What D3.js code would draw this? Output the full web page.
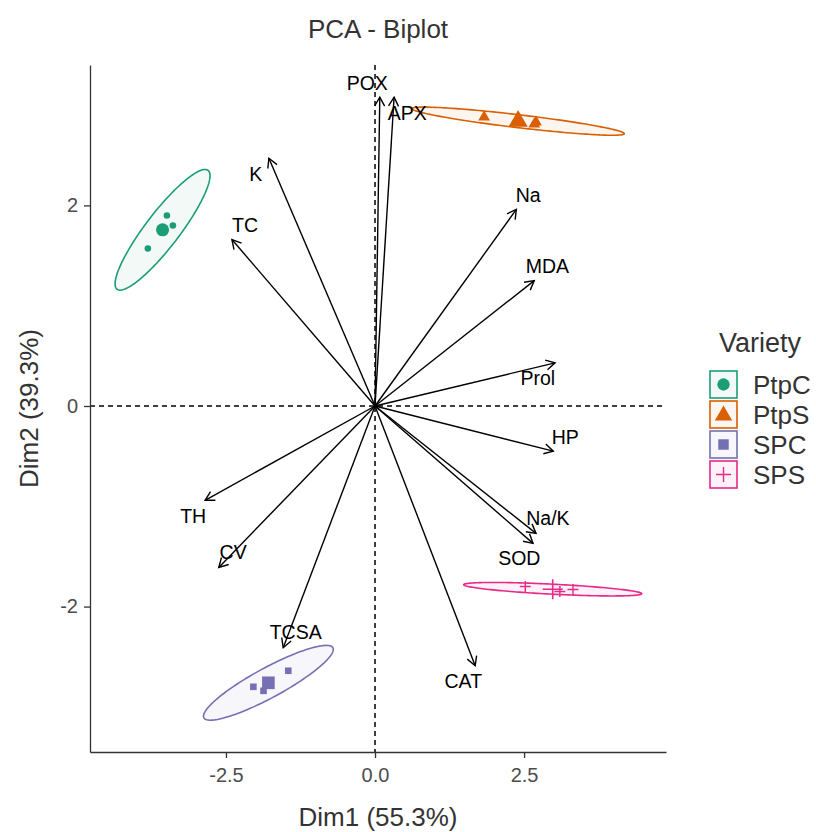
<!DOCTYPE html>
<html>
<head>
<meta charset="utf-8">
<script src="https://cdn.jsdelivr.net/npm/d3@7"></script>
<style>
  body { margin: 0; background: #fff; }
  text { font-family: "Liberation Sans", Arial, sans-serif; }
</style>
</head>
<body>
<svg id="biplot" width="816" height="832"></svg>
<script>
// variables (arrows) and where their labels sit, in PC units
var varNames = ["POX", "APX", "K", "TC", "Na", "MDA", "Prol", "HP", "Na/K", "SOD", "CAT", "TCSA", "CV", "TH"];
var varDim1 = [0.08, 0.32, -1.78, -2.40, 2.37, 2.67, 3.02, 2.99, 2.70, 2.65, 1.68, -1.54, -2.62, -2.85];
var varDim2 = [3.08, 3.08, 2.47, 1.66, 1.96, 1.25, 0.43, -0.45, -1.27, -1.37, -2.59, -2.41, -1.61, -0.94];
var labDim1 = [-0.13, 0.54, -2.00, -2.18, 2.57, 2.89, 2.73, 3.19, 2.90, 2.42, 1.48, -1.33, -2.38, -3.05];
var labDim2 = [3.22, 2.92, 2.31, 1.80, 2.10, 1.39, 0.28, -0.31, -1.12, -1.52, -2.74, -2.26, -1.46, -1.10];

// individuals
var groups = ["PtpC", "PtpS", "SPC", "SPS"];
var indGroup = ["PtpC", "PtpC", "PtpC", "PtpS", "PtpS", "PtpS", "SPC", "SPC", "SPC", "SPS", "SPS", "SPS"];
var indDim1 = [-3.49, -3.39, -3.81, 1.83, 2.70, 2.67, -1.455, -2.04, -1.87, 2.52, 3.10, 3.32];
var indDim2 = [1.90, 1.80, 1.57, 2.88, 2.83, 2.81, -2.64, -2.80, -2.84, -1.80, -1.85, -1.83];

// concentration ellipses: half axes (dim1, dim2) per group
var ellMajor = [[0.763, 0.593], [1.78, -0.125], [1.082, 0.349], [1.493, -0.045]];
var ellMinor = [[0.227, -0.103], [-0.013, -0.064], [0.120, -0.131], [-0.004, -0.050]];

var xTicks = [-2.5, 0, 2.5];
var yTicks = [-2, 0, 2];
var colors = ["#1B9E77", "#D95F02", "#7570B3", "#E7298A"];
var shapes = [d3.symbolCircle, d3.symbolTriangle, d3.symbolSquare, "plus"];

var svg = d3.select("svg#biplot");
var margin = {top: 65, right: 150, bottom: 80, left: 90},
    width = 816 - margin.left - margin.right,
    height = 832 - margin.top - margin.bottom;

var x = d3.scaleLinear().domain([-4.78, 4.88]).range([0, width]);
var y = d3.scaleLinear().domain([-3.45, 3.40]).range([height, 0]);

var g = svg.append("g")
  .attr("transform", "translate(" + margin.left + "," + margin.top + ")");

function symbolPath(shape, size) {
  if (shape === "plus") {
    var h = Math.sqrt(size) / 2;
    return "M" + (-h) + ",0H" + h + "M0," + (-h) + "V" + h;
  }
  return d3.symbol().type(shape).size(size)();
}

function groupMean(grp) {
  var idx = d3.range(indGroup.length).filter(function(k) { return indGroup[k] === grp; });
  return [d3.mean(idx, function(k) { return indDim1[k]; }),
          d3.mean(idx, function(k) { return indDim2[k]; })];
}

// ellipses
var t = d3.range(0, 2 * Math.PI + 0.01, Math.PI / 90);
groups.forEach(function(grp, i) {
  var c = groupMean(grp);
  var pts = t.map(function(a) {
    return [x(c[0] + Math.cos(a) * ellMajor[i][0] + Math.sin(a) * ellMinor[i][0]),
            y(c[1] + Math.cos(a) * ellMajor[i][1] + Math.sin(a) * ellMinor[i][1])];
  });
  g.append("path")
    .attr("d", d3.line()(pts) + "Z")
    .attr("fill", colors[i]).attr("fill-opacity", 0.06)
    .attr("stroke", colors[i]).attr("stroke-width", 1.6);
});

// reference lines
g.append("line").attr("x1", x(0)).attr("x2", x(0)).attr("y1", 0).attr("y2", height)
  .attr("stroke", "#000").attr("stroke-width", 1.5).attr("stroke-dasharray", "5,4");
g.append("line").attr("x1", 0).attr("x2", width).attr("y1", y(0)).attr("y2", y(0))
  .attr("stroke", "#000").attr("stroke-width", 1.5).attr("stroke-dasharray", "5,4");

// points
indGroup.forEach(function(grp, k) {
  var i = groups.indexOf(grp);
  var sz = [34, 60, 44, 120][i];
  g.append("path")
    .attr("d", symbolPath(shapes[i], sz))
    .attr("transform", "translate(" + x(indDim1[k]) + "," + y(indDim2[k]) + ")")
    .attr("fill", shapes[i] === "plus" ? "none" : colors[i])
    .attr("stroke", shapes[i] === "plus" ? colors[i] : "none")
    .attr("stroke-width", 1.4);
});
// group means
groups.forEach(function(grp, i) {
  var c = groupMean(grp);
  var sz = [135, 160, 160, 400][i];
  g.append("path")
    .attr("d", symbolPath(shapes[i], sz))
    .attr("transform", "translate(" + x(c[0]) + "," + y(c[1]) + ")")
    .attr("fill", shapes[i] === "plus" ? "none" : colors[i])
    .attr("stroke", shapes[i] === "plus" ? colors[i] : "none")
    .attr("stroke-width", 1.6);
});

// arrows
svg.append("defs").append("marker")
  .attr("id", "head").attr("viewBox", "-10 -6 12 12")
  .attr("refX", 0).attr("refY", 0)
  .attr("markerWidth", 12).attr("markerHeight", 12)
  .attr("markerUnits", "userSpaceOnUse")
  .attr("orient", "auto")
  .append("path").attr("d", "M-9,-5L0,0L-9,5")
  .attr("fill", "none").attr("stroke", "#000").attr("stroke-width", 1.4);

varNames.forEach(function(name, k) {
  g.append("line")
    .attr("x1", x(0)).attr("y1", y(0))
    .attr("x2", x(varDim1[k])).attr("y2", y(varDim2[k]))
    .attr("stroke", "#000").attr("stroke-width", 1.4)
    .attr("marker-end", "url(#head)");
  g.append("text")
    .attr("x", x(labDim1[k])).attr("y", y(labDim2[k]))
    .attr("text-anchor", "middle").attr("dy", "0.35em")
    .attr("font-size", "19.5px").attr("fill", "#000")
    .text(name);
});

// axes (plain hyphen minus, as in the original)
var hyph = function(f) { return function(d) { return f(d).replace("\u2212", "-"); }; };
var xAxis = g.append("g").attr("transform", "translate(0," + height + ")")
  .call(d3.axisBottom(x).tickValues(xTicks).tickSize(6).tickSizeOuter(0)
    .tickFormat(hyph(d3.format(".1f"))));
var yAxis = g.append("g")
  .call(d3.axisLeft(y).tickValues(yTicks).tickSize(6).tickSizeOuter(0)
    .tickFormat(hyph(d3.format("d"))));
[xAxis, yAxis].forEach(function(a) {
  a.select(".domain").attr("stroke", "#333").attr("stroke-width", 1.3);
  a.selectAll(".tick line").attr("stroke", "#333").attr("stroke-width", 1.3);
  a.selectAll(".tick text").attr("fill", "#4D4D4D").attr("font-size", "20px")
    .style("font-family", "Liberation Sans, Arial, sans-serif");
});
xAxis.selectAll(".tick text").attr("dy", "1.05em");
yAxis.selectAll(".tick text").attr("dx", "-0.15em");

// titles
svg.append("text")
  .attr("x", margin.left + width / 2).attr("y", 38)
  .attr("text-anchor", "middle").attr("font-size", "26px").attr("fill", "#333")
  .text("PCA - Biplot");
svg.append("text")
  .attr("x", margin.left + width / 2).attr("y", 826)
  .attr("text-anchor", "middle").attr("font-size", "26px").attr("fill", "#333")
  .text("Dim1 (55.3%)");
svg.append("text")
  .attr("transform", "translate(38," + (margin.top + height / 2) + ") rotate(-90)")
  .attr("text-anchor", "middle").attr("font-size", "26px").attr("fill", "#333")
  .text("Dim2 (39.3%)");

// legend
var legend = svg.append("g").attr("transform", "translate(709,343)");
legend.append("text").attr("x", 10).attr("y", 9)
  .attr("font-size", "27px").attr("fill", "#333").text("Variety");
groups.forEach(function(grp, i) {
  var row = legend.append("g").attr("transform", "translate(0," + (27 + i * 30) + ")");
  row.append("rect").attr("x", 1).attr("y", 1).attr("width", 27).attr("height", 27)
    .attr("fill", colors[i]).attr("fill-opacity", 0.06)
    .attr("stroke", colors[i]).attr("stroke-width", 1.6);
  row.append("path")
    .attr("d", symbolPath(shapes[i], [120, 130, 110, 230][i]))
    .attr("transform", "translate(14.5," + (14.5 + (i === 1 ? 1 : 0)) + ")")
    .attr("fill", shapes[i] === "plus" ? "none" : colors[i])
    .attr("stroke", shapes[i] === "plus" ? colors[i] : "none")
    .attr("stroke-width", 1.4);
  row.append("text").attr("x", 44).attr("y", 14.5).attr("dy", "0.35em")
    .attr("font-size", "26px").attr("fill", "#333").text(grp);
});
</script>
</body>
</html>
